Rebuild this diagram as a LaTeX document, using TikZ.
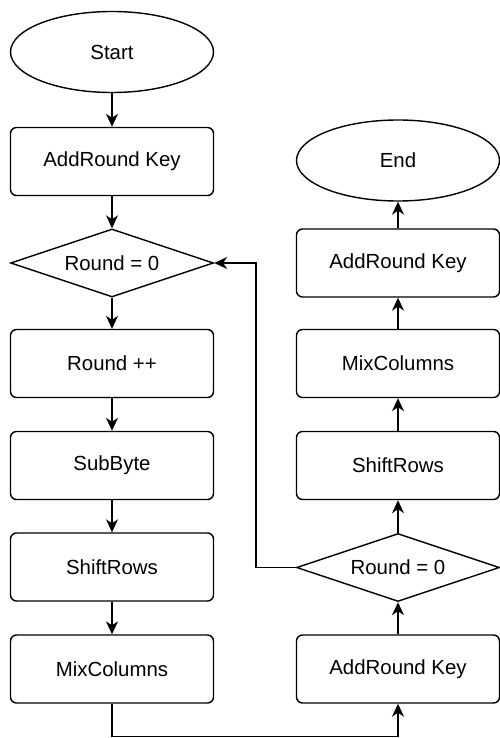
\documentclass[tikz,border=0pt]{standalone}
\usepackage{fontspec}
\setmainfont{Liberation Sans}
\usetikzlibrary{shapes.geometric,arrows.meta}
\begin{document}
\begin{tikzpicture}[x=1pt,y=-1pt,
  every node/.style={font=\fontsize{20.4}{24}\selectfont, text=black},
  proc/.style={draw, line width=1.4pt, rounded corners=6pt, minimum width=203pt, minimum height=68pt, inner sep=0pt},
  term/.style={draw, line width=1.4pt, ellipse, minimum width=203pt, minimum height=81pt, inner sep=0pt},
  deci/.style={draw, line width=1.4pt, diamond, aspect=3, minimum width=203pt, minimum height=68pt, inner sep=0pt},
  flow/.style={line width=1.4pt, -{Stealth[length=13pt,width=12pt,inset=4pt]}}
]
\useasboundingbox (0,0) rectangle (500,738);
% left column
\node[term] (start) at (112,52) {Start};
\node[proc] (ark1) at (112,161.5) {AddRound Key};
\node[deci] (d1) at (112,263) {Round = 0};
\node[proc] (rpp) at (112,363.5) {Round ++};
\node[proc] (sub) at (112,465.5) {SubByte};
\node[proc] (sr1) at (112,567) {ShiftRows};
\node[proc] (mc1) at (112,669) {MixColumns};
% right column
\node[term] (end) at (398,160.5) {End};
\node[proc] (ark3) at (398,263) {AddRound Key};
\node[proc] (mc2) at (398,363.5) {MixColumns};
\node[proc] (sr2) at (398,465.5) {ShiftRows};
\node[deci] (d2) at (398,567.5) {Round = 0};
\node[proc] (ark2) at (398,669) {AddRound Key};
\coordinate (loopx) at (256,0);
\coordinate (bot) at (0,736.5);
% connectors
\draw[flow] (start) -- (ark1);
\draw[flow] (ark1) -- (d1);
\draw[flow] (d1) -- (rpp);
\draw[flow] (rpp) -- (sub);
\draw[flow] (sub) -- (sr1);
\draw[flow] (sr1) -- (mc1);
\draw[flow] (mc1.south) -- (mc1.south |- bot) -| (ark2.south);
\draw[flow] (ark2) -- (d2);
\draw[flow] (d2) -- (sr2);
\draw[flow] (sr2) -- (mc2);
\draw[flow] (mc2) -- (ark3);
\draw[flow] (ark3) -- (end);
\draw[flow] (d2.west) -- (d2.west -| loopx) -- (d1.east -| loopx) -- (d1.east);
\end{tikzpicture}
\end{document}
